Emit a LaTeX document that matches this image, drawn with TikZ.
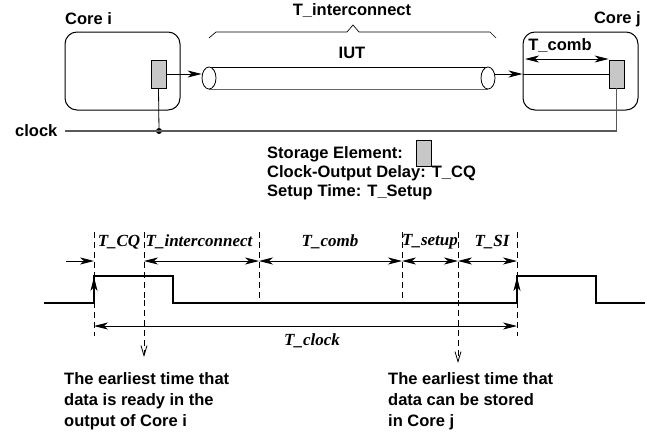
\documentclass[tikz,border=0pt]{standalone}
\usepackage{fontspec}
\setmainfont{Liberation Sans}
\newfontfamily\timesfont{Liberation Serif}
\usetikzlibrary{arrows.meta,positioning,shapes.geometric}
\tikzset{
  core/.style={draw,rounded corners=12pt,line width=1pt,minimum width=115pt,minimum height=78pt,inner sep=0pt},
  store/.style={draw,fill=black!22,line width=0.8pt,minimum width=15pt,minimum height=28pt,inner sep=0pt},
  lbl/.style={font=\fontsize{16.5}{21}\selectfont\bfseries,inner sep=0pt},
  tlbl/.style={font=\fontsize{17}{20}\selectfont\timesfont\bfseries\itshape,inner sep=0pt},
  tube/.style={draw,ellipse,fill=white,line width=0.8pt,minimum width=14pt,minimum height=22pt,inner sep=0pt},
  tick/.style={dash pattern=on 6pt off 4pt,line width=0.7pt},
}

\begin{document}
\begin{tikzpicture}[x=1pt,y=-1pt,>={Stealth[length=14pt,width=7pt,inset=4pt]}]
\useasboundingbox (0,0) rectangle (665,434);

% the two cores and the wire between them
\node[core](Ci) at (122.5,71) {};
\node[core](Cj) at (580.5,71) {};
\node[store](Si) at (158.5,74) {};
\node[store](Sj) at (616.5,74) {};
\node[lbl,anchor=west](Cin) at (65,19) {Core i};
\node[lbl,anchor=east](Cjn) at (641,19) {Core j};

\draw[line width=0.8pt] (209,67) -- (488,67);
\draw[line width=0.9pt,black!60] (209,89) -- (488,89);
\node[tube](tL) at (209,78) {};
\node[tube](tR) at (488,78) {};
\node[lbl](IUT) at (352,53) {IUT};

\draw[->,line width=0.8pt] (Si.east) -- (Si.east -| tL.west);
\draw[->,line width=0.8pt] (tR.east |- Sj.west) -- (Cj.west |- Sj.west);
\draw[line width=0.8pt] (Cj.west |- Sj.west) -- (Sj.west);

\coordinate (cb) at (525,59);
\draw[<->,line width=0.8pt] (cb) -- (cb -| Sj.west);
\node[lbl](Tcomb) at (560,46) {T\_comb};

\draw[line width=0.7pt] (209,38) -- (216,32) -- (347,32) -- (353,25) -- (359,32) -- (490,32) -- (496,38);
\node[lbl](Tint) at (352,11) {T\_interconnect};

% clock
\node[lbl,anchor=west](clk) at (15,131) {clock};
\coordinate (c0) at (65,131);
\node[circle,fill,inner sep=0pt,minimum size=6pt](dot) at (159,131) {};
\draw[black!65,line width=1.1pt] (c0) -- (Sj.south |- c0) -- (Sj.south);
\draw[line width=0.8pt] (dot) -- (Si.south);

% legend
\node[lbl,anchor=west](leg1) at (267,154) {Storage Element:};
\node[store,minimum height=26pt](legS) at (423.5,153) {};
\node[lbl,anchor=west](leg2) at (267,173) {Clock-Output Delay: T\_CQ};
\node[lbl,anchor=west](leg3) at (267,192) {Setup Time: T\_Setup};

% timing
\foreach \n/\x/\y in {t0/94/336,t1/144/300,t2/259/303,t3/402/303,t4/458/300,t5/517/336}
  \draw[tick] (\x,232) coordinate(\n) -- (\x,\y) coordinate(\n b);
\draw[tick,-{Straight Barb[length=10pt,width=6pt,line width=0.8pt]}] (t1b) -- (144,357);
\draw[tick,-{Straight Barb[length=10pt,width=6pt,line width=0.8pt]}] (t4b) -- (458,363);

\draw[line width=1.3pt] (44,303) -- (94,303) -- (94,276) -- (173,276) -- (173,303)
  -- (517,303) -- (517,276) -- (596,276) -- (596,303) -- (645,303);
\draw[->,line width=1pt] (94,303) -- (94,277);
\draw[->,line width=1pt] (517,303) -- (517,277);

\draw[->,line width=0.8pt] (66,261) -- (t0 |- 0,261);
\draw[<->,line width=0.8pt] (t1 |- 0,261) -- (t2 |- 0,261);
\draw[<->,line width=0.8pt] (t2 |- 0,261) -- (t3 |- 0,261);
\draw[<->,line width=0.8pt] (t3 |- 0,261) -- (t4 |- 0,261);
\draw[<->,line width=0.8pt] (t4 |- 0,261) -- (t5 |- 0,261);
\draw[<->,line width=0.8pt] (t0 |- 0,326) -- (t5 |- 0,326);

\node[tlbl](TCQ) at (119,242) {T\_CQ};
\node[tlbl](Tic) at (199,242) {T\_interconnect};
\node[tlbl](Tcb) at (330,242) {T\_comb};
\node[tlbl](Tsu) at (430,242) {T\_setup};
\node[tlbl](TSI) at (492,242) {T\_SI};
\node[tlbl](Tclk) at (312,341) {T\_clock};

\node[lbl,anchor=north west,align=left](ready) at (64,372) {The earliest time that\\data is ready in the\\output of Core i};
\node[lbl,anchor=north west,align=left](stored) at (388,372) {The earliest time that\\data can be stored\\in Core j};
\end{tikzpicture}
\end{document}
